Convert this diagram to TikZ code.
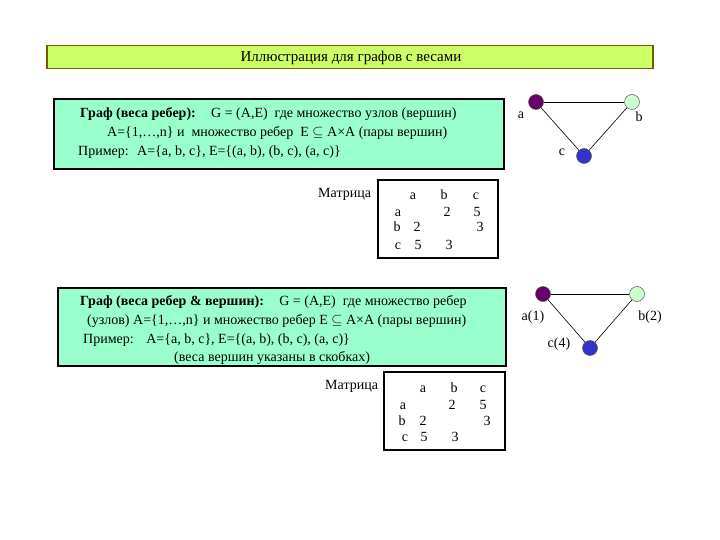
\documentclass[tikz,border=0pt]{standalone}
\usepackage{fontspec}
\setmainfont{Liberation Serif}
\begin{document}
\begin{tikzpicture}[x=1pt,y=-1pt,
  txt/.style={inner sep=0pt, anchor=base west, font=\fontsize{14}{16}\selectfont},
  ctxt/.style={inner sep=0pt, anchor=base, font=\fontsize{14}{16}\selectfont},
  titlebar/.style={draw=titleborder, fill=titlefill, line width=1.2pt, inner sep=0pt},
  greenbox/.style={draw=black, fill=boxfill, line width=1.1pt, inner sep=0pt},
  matbox/.style={draw=black, line width=1.1pt, inner sep=0pt},
  vtx/.style={circle, draw=vborder, line width=0.5pt, minimum size=15pt, inner sep=0pt},
  edge/.style={draw=black, line width=0.6pt}]
\definecolor{titlefill}{HTML}{CCFF66}
\definecolor{titleborder}{HTML}{7A5A00}
\definecolor{boxfill}{HTML}{99FFCC}
\definecolor{vborder}{HTML}{555555}
\definecolor{vA}{HTML}{660066}
\definecolor{vB}{HTML}{CCFFCC}
\definecolor{vC}{HTML}{3333CC}
\useasboundingbox (0,0) rectangle (720,540);
\fill[white] (0,0) rectangle (720,540);

% title
\node[titlebar, minimum width=606pt, minimum height=23pt] (title) at (350,57) {};
\node[ctxt, font=\fontsize{15}{17}\selectfont] (titletext) at (351,62) {Иллюстрация для графов с весами};

% box 1
\node[greenbox, minimum width=450pt, minimum height=70pt] (box1) at (279,134) {};
\node[txt] (b1l1) at (80,118) {\textbf{Граф (веса ребер):}\hspace{1.1em}G = (A,E)\hspace{0.5em}где множество узлов (вершин)};
\node[txt] (b1l2) at (107,137) {A=\{1,…,n\} и\hspace{0.5em}множество ребер\hspace{0.5em}E $\subseteq$ A×A (пары вершин)};
\node[txt] (b1l3) at (78,156) {Пример:\hspace{0.6em}A=\{a, b, c\}, E=\{(a, b), (b, c), (a, c)\}};

% matrix 1
\node[txt] (m1lab) at (318,197) {Матрица};
\node[matbox, minimum width=120pt, minimum height=78pt] (m1) at (438,219) {};
\node[ctxt] (m1ha) at (413,200) {a};
\node[ctxt] (m1hb) at (444,200) {b};
\node[ctxt] (m1hc) at (476,200) {c};
\node[ctxt] (m1ra) at (398,216) {a};
\node[ctxt] (m1ab) at (447,216) {2};
\node[ctxt] (m1ac) at (477,216) {5};
\node[ctxt] (m1rb) at (397,232) {b};
\node[ctxt] (m1ba) at (417,232) {2};
\node[ctxt] (m1bc) at (480,232) {3};
\node[ctxt] (m1rc) at (398,249) {c};
\node[ctxt] (m1ca) at (418,249) {5};
\node[ctxt] (m1cb) at (449,249) {3};

% graph 1
\node[vtx, fill=vA] (ga) at (536,102) {};
\node[vtx, fill=vB] (gb) at (632,102) {};
\node[vtx, fill=vC] (gc) at (584,156) {};
\draw[edge] (ga) -- (gb);
\draw[edge] (ga) -- (gc);
\draw[edge] (gb) -- (gc);
\node[ctxt] (gla) at (521,119) {a};
\node[ctxt] (glb) at (639,122) {b};
\node[ctxt] (glc) at (562,156) {c};

% box 2
\node[greenbox, minimum width=448pt, minimum height=78pt] (box2) at (282,327) {};
\node[txt] (b2l1) at (80,305) {\textbf{Граф (веса ребер \& вершин):}\hspace{1.1em}G = (A,E)\hspace{0.5em}где множество ребер};
\node[txt] (b2l2) at (87,324) {(узлов) A=\{1,…,n\} и множество ребер E $\subseteq$ A×A (пары вершин)};
\node[txt] (b2l3) at (83,343) {Пример:\hspace{0.9em}A=\{a, b, c\}, E=\{(a, b), (b, c), (a, c)\}};
\node[txt] (b2l4) at (174,361) {(веса вершин указаны в скобках)};

% matrix 2
\node[txt] (m2lab) at (325,389) {Матрица};
\node[matbox, minimum width=121pt, minimum height=78pt] (m2) at (444.5,411) {};
\node[ctxt] (m2ha) at (423,392) {a};
\node[ctxt] (m2hb) at (454,392) {b};
\node[ctxt] (m2hc) at (483,392) {c};
\node[ctxt] (m2ra) at (403,409) {a};
\node[ctxt] (m2ab) at (452,409) {2};
\node[ctxt] (m2ac) at (483,409) {5};
\node[ctxt] (m2rb) at (402,425) {b};
\node[ctxt] (m2ba) at (423,425) {2};
\node[ctxt] (m2bc) at (487,425) {3};
\node[ctxt] (m2rc) at (405,441) {c};
\node[ctxt] (m2ca) at (424,441) {5};
\node[ctxt] (m2cb) at (455,441) {3};

% graph 2
\node[vtx, fill=vA] (ha) at (543,294) {};
\node[vtx, fill=vB] (hb) at (637,294) {};
\node[vtx, fill=vC] (hc) at (590,348) {};
\draw[edge] (ha) -- (hb);
\draw[edge] (ha) -- (hc);
\draw[edge] (hb) -- (hc);
\node[ctxt] (hla) at (533,320) {a(1)};
\node[ctxt] (hlb) at (650,320) {b(2)};
\node[ctxt] (hlc) at (559,347) {c(4)};
\end{tikzpicture}
\end{document}
